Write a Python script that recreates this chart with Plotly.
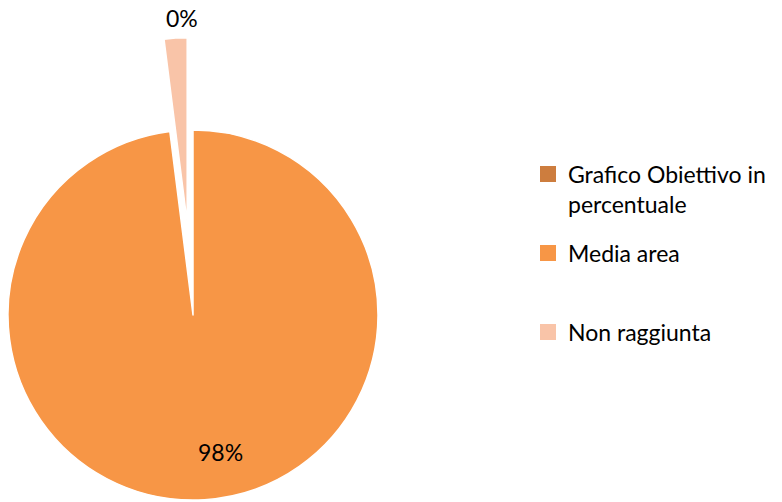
import math
import plotly.graph_objects as go

# Chart data
labels = ["Grafico Obiettivo in<br>percentuale", "Media area", "Non raggiunta"]
values = [0, 98, 2]
colors = ["#CD7D3E", "#F79646", "#F9C4A8"]

W, H = 782, 502
CX, CY, R = 193, 315, 185     # pie centre / radius in pixels
PULL = 0.5                     # exploded slice offset as fraction of radius
FONT = "Lato"
FSIZE = 23
CLEAR = "rgba(0,0,0,0)"

total = sum(values)
shares = [v / total for v in values]


def domain(cx, cy, r):
    return dict(x=[(cx - r) / W, (cx + r) / W],
                y=[(H - (cy + r)) / H, (H - (cy - r)) / H])


# angle (clockwise from 12 o'clock) of the bisector of the exploded slice
start = sum(shares[:2]) * 360
mid = math.radians(start + shares[2] * 360 / 2)
pcx = CX + PULL * R * math.sin(mid)
pcy = CY - PULL * R * math.cos(mid)

fig = go.Figure()

# main pie: the "Non raggiunta" slice is left empty (exploded below)
fig.add_trace(go.Pie(
    labels=labels, values=values, sort=False, direction="clockwise", rotation=0,
    marker=dict(colors=[colors[0], colors[1], CLEAR],
                line=dict(color="white", width=[0, 1.5, 0])),
    textinfo="none", hoverinfo="label+percent", showlegend=False,
    domain=domain(CX, CY, R),
))

# exploded "Non raggiunta" slice
fig.add_trace(go.Pie(
    labels=labels, values=values, sort=False, direction="clockwise", rotation=0,
    marker=dict(colors=[CLEAR, CLEAR, colors[2]],
                line=dict(color="white", width=[0, 0, 1.5])),
    textinfo="none", hoverinfo="label+percent", showlegend=False,
    domain=domain(pcx, pcy, R),
))

# legend entries, one legend per item
legend_y = [189, 253, 332]
legend_names = ["legend", "legend2", "legend3"]
for lab, col, lg in zip(labels, colors, legend_names):
    fig.add_trace(go.Scatter(
        x=[None], y=[None], mode="markers", name=lab, legend=lg,
        marker=dict(symbol="square", size=16, color=col),
        hoverinfo="skip",
    ))

legend_common = dict(x=528 / W, xanchor="left", yanchor="middle",
                     bgcolor=CLEAR, valign="top",
                     font=dict(family=FONT, size=FSIZE, color="#000000"))
layout_legends = {}
for lg, ly in zip(legend_names, legend_y):
    d = dict(legend_common)
    d["y"] = 1 - ly / H
    layout_legends[lg] = d

# value labels
annotations = [
    dict(text=f"{round(shares[1] * 100)}%", x=220 / W, y=1 - 452 / H),
    dict(text=f"{round(shares[0] * 100)}%", x=182 / W, y=1 - 18 / H),
]
for a in annotations:
    a.update(xref="paper", yref="paper", showarrow=False,
             xanchor="center", yanchor="middle",
             font=dict(family=FONT, size=FSIZE, color="#000000"))

fig.update_layout(
    width=W, height=H,
    margin=dict(l=0, r=0, t=0, b=0),
    paper_bgcolor="white", plot_bgcolor="white",
    xaxis=dict(visible=False), yaxis=dict(visible=False),
    annotations=annotations,
    **layout_legends,
)

fig.write_html("out.html")
